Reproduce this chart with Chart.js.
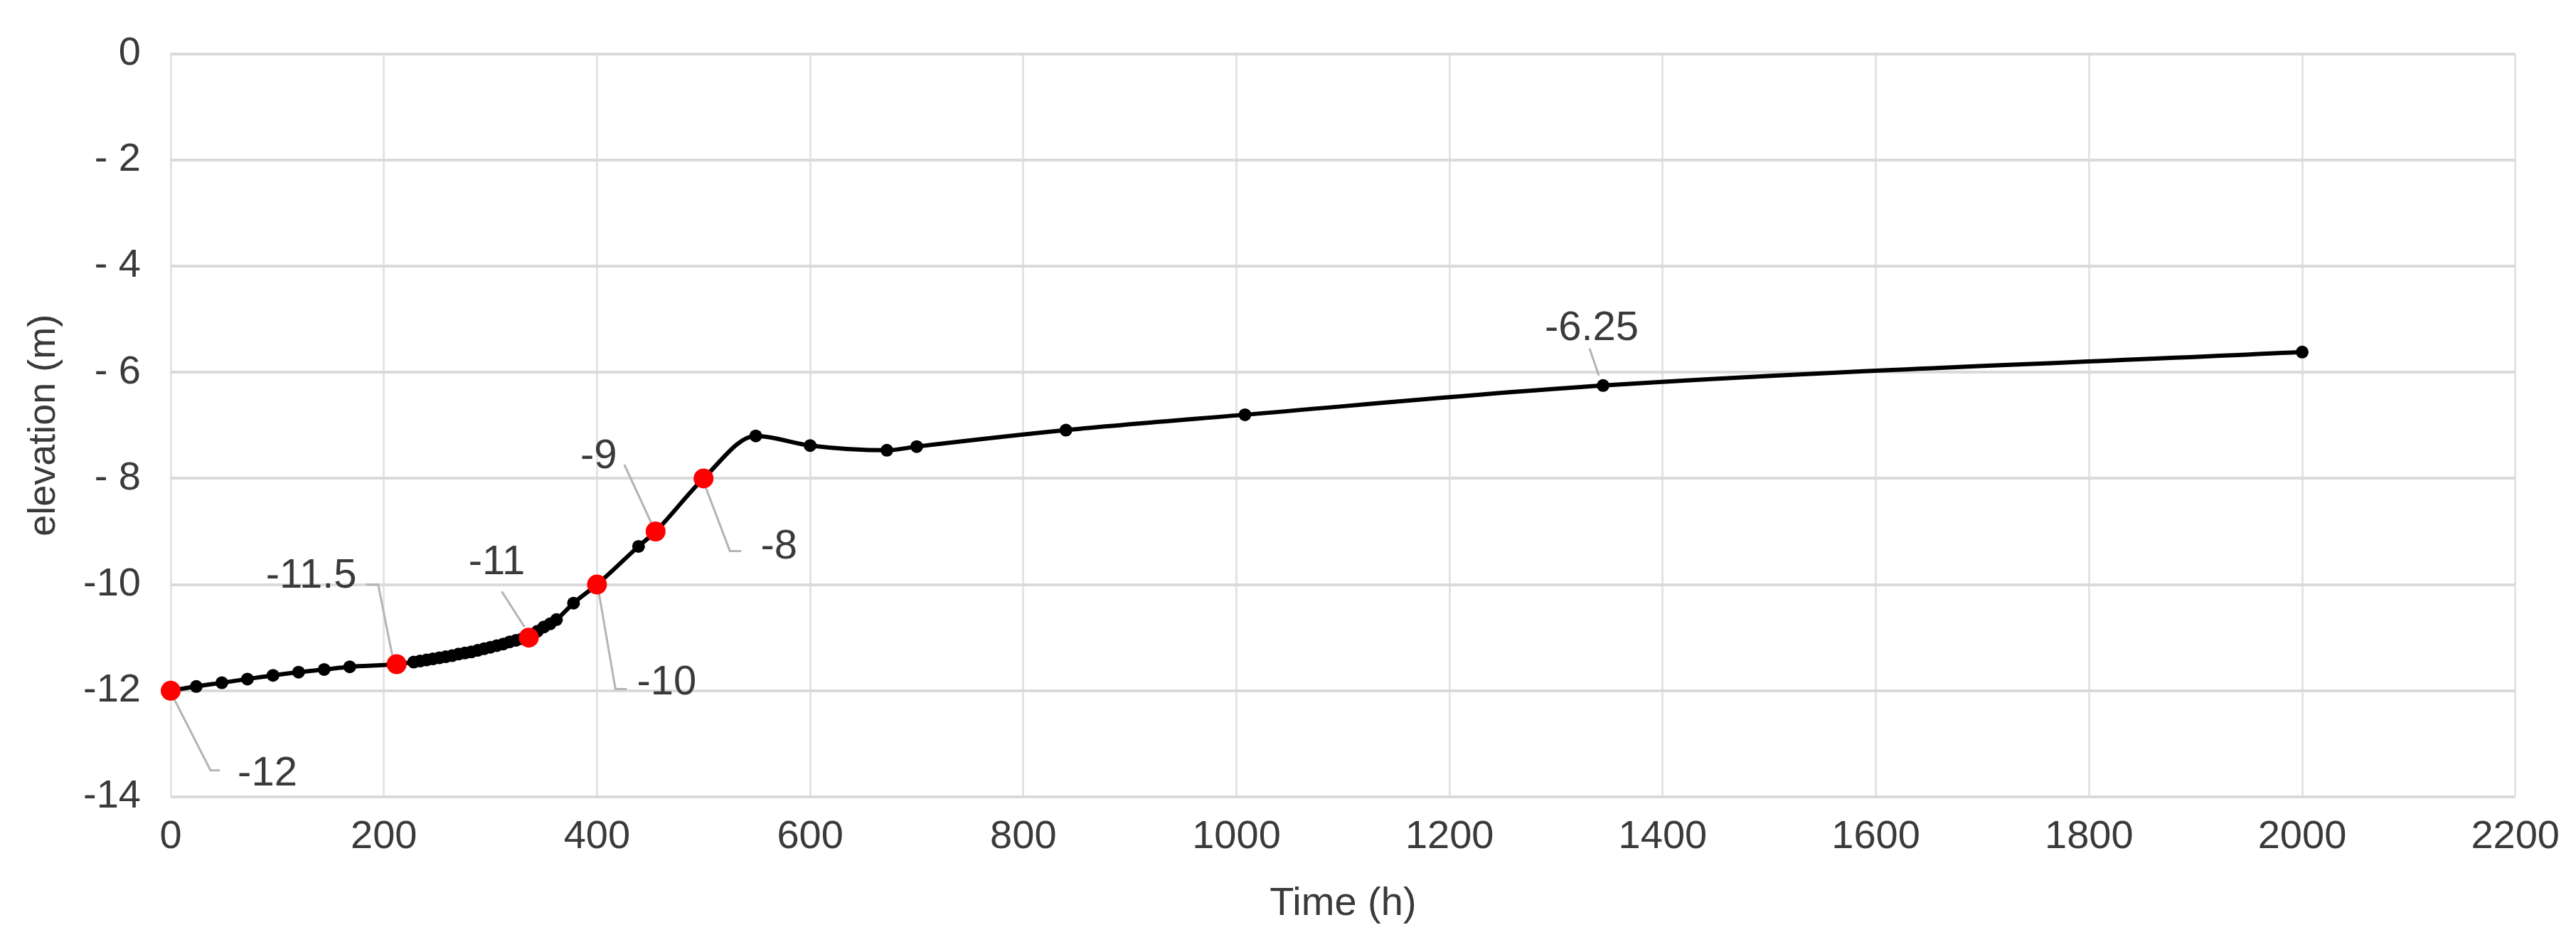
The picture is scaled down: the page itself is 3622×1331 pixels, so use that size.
<!DOCTYPE html>
<html>
<head>
<meta charset="utf-8">
<script src="https://cdn.jsdelivr.net/npm/chart.js@4.4.0/dist/chart.umd.min.js"></script>
<style>
  html, body { margin: 0; padding: 0; background: #fff; }
</style>
</head>
<body>
<canvas id="chart" width="3622" height="1331"></canvas>
<script>
// measured series (time in hours, elevation in m)
const timeH = [0, 24, 48, 72, 96, 120, 144, 168, 212, 228, 234, 240, 246, 252, 258, 264, 270, 276, 282, 288,
    294, 300, 306, 312, 318, 324, 330, 336, 344, 350, 356, 362, 378, 400, 439, 455, 500, 549, 600, 672,
    700, 840, 1008, 1344, 2000];
const elevation = [-12, -11.92, -11.85, -11.78, -11.71, -11.65, -11.6, -11.55, -11.5, -11.46, -11.44, -11.42, -11.4, -11.38, -11.36, -11.34, -11.31, -11.29, -11.27, -11.24,
    -11.21, -11.18, -11.15, -11.12, -11.08, -11.05, -11.02, -11, -10.88, -10.8, -10.74, -10.66, -10.35, -10, -9.28, -9, -8, -7.2, -7.38, -7.47,
    -7.4, -7.09, -6.8, -6.25, -5.62];

// highlighted points (red)
const markedTimes = [0, 212, 336, 400, 455, 500];
const markedElev = [-12, -11.5, -11, -10, -9, -8];

// data labels
const labelTimes = [0, 212, 336, 400, 455, 500, 1344];
const labelValues = [-12, -11.5, -11, -10, -9, -8, -6.25];
const labelTexts = ['-12', '-11.5', '-11', '-10', '-9', '-8', '-6.25'];

// axis ticks
const yTickValues = [0, -2, -4, -6, -8, -10, -12, -14];
const yTickLabels = ['0', '- 2', '- 4', '- 6', '- 8', '-10', '-12', '-14'];

// label placement relative to the point (px): text centre + leader line path
const labelLayout = [
    { text: [136, 117], path: [[5, 12], [56, 112], [69, 112]] },
    { text: [-120, -124], path: [[-6, -12], [-26, -112], [-43, -112]] },
    { text: [-45, -105], path: [[-6, -15], [-38, -65]] },
    { text: [98, 138], path: [[2, 8], [26, 147], [42, 147]] },
    { text: [-80, -105], path: [[-6, -12], [-44, -94]] },
    { text: [106, 97], path: [[2, 10], [37, 102], [53, 102]] },
    { text: [-16, -80], path: [[-6, -14], [-19, -52]] },
];

const FONT = "'Liberation Sans', Arial, sans-serif";
const TEXT_COLOR = '#3a3a3a';

const dataLabels = {
    id: 'dataLabels',
    beforeDatasetsDraw(chart) {
        const { ctx, scales: { x, y } } = chart;
        ctx.save();
        ctx.strokeStyle = '#b4b4b4';
        ctx.lineWidth = 3;
        labelTimes.forEach((t, i) => {
            const px = x.getPixelForValue(t);
            const py = y.getPixelForValue(labelValues[i]);
            const path = labelLayout[i].path;
            ctx.beginPath();
            path.forEach((p, j) => {
                if (j === 0) ctx.moveTo(px + p[0], py + p[1]);
                else ctx.lineTo(px + p[0], py + p[1]);
            });
            ctx.stroke();
        });
        ctx.restore();
    },
    afterDatasetsDraw(chart) {
        const { ctx, scales: { x, y } } = chart;
        ctx.save();
        ctx.font = '58px ' + FONT;
        ctx.fillStyle = TEXT_COLOR;
        ctx.textAlign = 'center';
        ctx.textBaseline = 'middle';
        labelTimes.forEach((t, i) => {
            const px = x.getPixelForValue(t);
            const py = y.getPixelForValue(labelValues[i]);
            const off = labelLayout[i].text;
            ctx.fillText(labelTexts[i], px + off[0], py + off[1]);
        });
        ctx.restore();
    }
};

const ctx = document.getElementById('chart').getContext('2d');
new Chart(ctx, {
    type: 'line',
    data: {
        datasets: [
            {
                label: 'marked',
                data: markedTimes.map((t, i) => ({ x: t, y: markedElev[i] })),
                showLine: false,
                pointRadius: 14,
                pointBackgroundColor: '#ff0000',
                pointBorderWidth: 0,
                clip: false,
                order: 0
            },
            {
                label: 'elevation',
                data: timeH.map((t, i) => ({ x: t, y: elevation[i] })),
                borderColor: '#000',
                borderWidth: 6,
                pointRadius: 9,
                pointBackgroundColor: '#000',
                pointBorderWidth: 0,
                cubicInterpolationMode: 'monotone',
                clip: false,
                order: 1
            }
        ]
    },
    options: {
        responsive: false,
        animation: false,
        layout: { padding: { left: 0, right: 72, top: 72, bottom: 0 } },
        plugins: {
            legend: { display: false },
            tooltip: { enabled: false }
        },
        scales: {
            x: {
                type: 'linear',
                min: 0,
                max: 2200,
                ticks: {
                    stepSize: 200,
                    padding: 23,
                    maxRotation: 0,
                    autoSkip: false,
                    color: TEXT_COLOR,
                    font: { family: FONT, size: 56 },
                    callback: v => String(v)
                },
                grid: { color: '#e4e4e4', lineWidth: 3, drawTicks: false },
                border: { display: false },
                title: { display: true, text: 'Time (h)', color: TEXT_COLOR, font: { family: FONT, size: 56 }, padding: { top: 0, bottom: 27 } },
                afterFit(scale) { scale.height = 211; }
            },
            y: {
                type: 'linear',
                min: -14,
                max: 0,
                ticks: {
                    stepSize: 2,
                    padding: 42,
                    color: TEXT_COLOR,
                    font: { family: FONT, size: 56 },
                    callback: v => {
                        const k = yTickValues.indexOf(v);
                        return k >= 0 ? yTickLabels[k] : '';
                    }
                },
                grid: { color: '#dadada', lineWidth: 4, drawTicks: false },
                border: { display: false },
                title: { display: true, text: 'elevation (m)', color: TEXT_COLOR, font: { family: FONT, size: 54 }, padding: { top: 30, bottom: 0 } },
                afterFit(scale) { scale.width = 240; }
            }
        }
    },
    plugins: [dataLabels]
});
</script>
</body>
</html>
